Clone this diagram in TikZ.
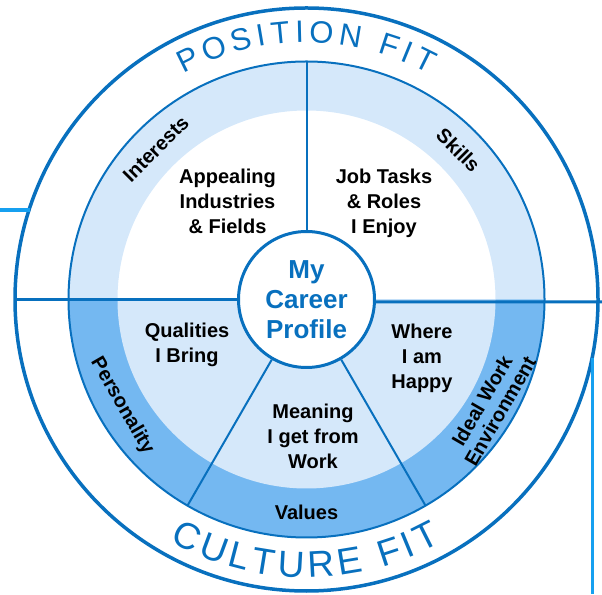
\documentclass[tikz,border=0pt]{standalone}
\usepackage{fontspec}
\setmainfont{Liberation Sans}
\usetikzlibrary{decorations.text,calc}

\definecolor{ringblue}{RGB}{8,112,190}
\definecolor{paleblue}{RGB}{213,232,250}
\definecolor{midblue}{RGB}{116,184,241}
\definecolor{linkblue}{RGB}{22,160,240}

\newcommand{\postitlefont}{\fontsize{31}{31}\selectfont}
\newcommand{\cultitlefont}{\fontsize{37}{37}\selectfont}

\begin{document}
\begin{tikzpicture}[x=1pt,y=1pt,
  inner/.style={font=\fontsize{20}{25}\selectfont\bfseries, align=center, text=black, inner sep=0pt},
  bandlabel/.style={font=\fontsize{20}{21}\selectfont\bfseries, align=center, text=black, inner sep=0pt},
  divider/.style={draw=ringblue, line width=2pt},
  rim/.style={draw=ringblue, line width=3.5pt},
  link/.style={draw=linkblue, line width=3.5pt}]
\useasboundingbox (0,0) rectangle (602,594);
\coordinate (C) at (306.5,294.5);

% coloured bands
\fill[paleblue] ([shift={(0:238)}]C) arc[start angle=0,end angle=180,radius=238]
  -- ([shift={(180:189)}]C) arc[start angle=180,end angle=0,radius=189] -- cycle;
\fill[midblue] ([shift={(180:238)}]C) arc[start angle=180,end angle=360,radius=238] -- cycle;
\fill[paleblue] ([shift={(180:189)}]C) arc[start angle=180,end angle=360,radius=189] -- cycle;

% band outline
\draw[divider] (C) circle[radius=238];

% hub
\node[circle, draw=ringblue, line width=3pt, fill=white, minimum size=136pt, inner sep=0pt,
      font=\fontsize{26}{30}\selectfont\bfseries, text=ringblue, align=center] (hub) at (C)
  {My\\Career\\Profile};

% end points of the dividers
\coordinate (topend) at ([shift={(90:238)}]C);
\coordinate (vend) at ([shift={(240:238)}]C);
\coordinate (iend) at ([shift={(300:238)}]C);
\coordinate (leftrim) at (15,294.5);
\coordinate (rightedge) at (602,292);

\draw[divider] (hub.90) -- (topend);
\draw[divider] (hub.240) -- (vend);
\draw[divider] (hub.300) -- (iend);
\draw[rim, line width=3pt] (leftrim) -- (hub.180);
\draw[rim, line width=3pt] (hub.-2.1) -- (rightedge);

% outer rim
\draw[rim] (C) circle[radius=291.5];

% side links
\coordinate (linkL0) at (0,384);
\coordinate (linkL1) at (29.5,384);
\coordinate (linkR0) at (592.5,236);
\coordinate (linkR1) at (592.5,0);
\draw[link] (linkL0) -- (linkL1);
\draw[link] (linkR0) -- (linkR1);

% inner texts
\node[inner] (appeal) at (227.5,393) {Appealing\\Industries\\\& Fields};
\node[inner] (tasks) at (384,390.5) {Job Tasks\\\& Roles\\I Enjoy};
\node[inner] (qual) at (187,249.5) {Qualities\\I Bring};
\node[inner] (mean) at (313,158) {Meaning\\I get from\\Work};
\node[inner] (where) at (422,235.5) {Where\\I am\\Happy};

% band labels
\node[bandlabel, rotate=45] (interests) at ([shift={(135:213)}]C) {Interests};
\node[bandlabel, rotate=-45] (skills) at ([shift={(44.5:213)}]C) {Skills};
\node[bandlabel, rotate=-60] (personality) at ([shift={(210:213)}]C) {Personality};
\node[bandlabel] (values) at ([shift={(270:213)}]C) {Values};
\node[bandlabel, rotate=60] (ideal) at ([shift={(-30:213)}]C) {Ideal Work\\Environment};

% titles on the rim
\path[decorate, decoration={text along path, text color=ringblue,
    text={|\postitlefont|POSITION FIT}, text align={fit to path}}]
  ([shift={(118.5:257)}]C) arc[start angle=118.5, end angle=61.5, radius=257];
\path[decorate, decoration={text along path, text color=ringblue,
    text={|\cultitlefont|CULTURE FIT}, text align={fit to path}}]
  ([shift={(240.5:278)}]C) arc[start angle=240.5, end angle=299, radius=278];
\end{tikzpicture}
\end{document}
